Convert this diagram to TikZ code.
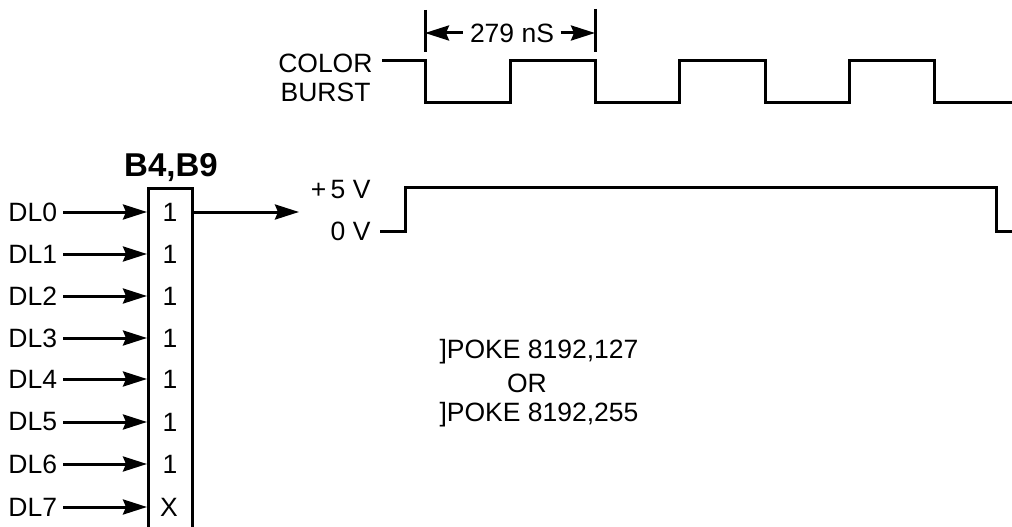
\documentclass[tikz,border=0pt]{standalone}
\usepackage{fontspec}
\setmainfont{Liberation Sans}
\usepackage{tikz}
\usetikzlibrary{positioning}
\usetikzlibrary{calc,arrows.meta}
\tikzset{
	x=1pt,y=-1pt,
	wire/.style = {-{Stealth[length=24pt,width=15pt,inset=3pt]}},
	wave/.style = {line width=3pt, line join=miter},
	txt/.style = {inner sep=0pt, font=\fontsize{26.5}{26.5}\selectfont},
	lineLabel/.style = {txt, anchor=west},
	sideLabel/.style = {txt, anchor=east},
	bit/.style = {txt},
	title/.style = {inner sep=0pt, font=\fontsize{33}{33}\selectfont\bfseries},
	latch/.style = {rectangle, draw, inner sep=0pt, minimum width=44pt, minimum height=352pt},
}
\begin{document}
\begin{tikzpicture}[line width=3pt]
	\clip (0,0) rectangle (1012,527);
	\fill[white] (0,0) rectangle (1012,527);
	% latch
	\node (box) [latch] at (170.5,364) {};
	\node (name) [title] at (171,168) {B4,B9};
	\node (b0) [bit] at (170,212) {1};
	\node (b1) [bit] at (170,254) {1};
	\node (b2) [bit] at (170,296) {1};
	\node (b3) [bit] at (170,338) {1};
	\node (b4) [bit] at (170,379) {1};
	\node (b5) [bit] at (170,422) {1};
	\node (b6) [bit] at (170,464) {1};
	\node (b7) [bit] at (169,507) {X};
	\node (dl0) [lineLabel] at (7,212) {DL0};
	\node (dl1) [lineLabel] at (7,254) {DL1};
	\node (dl2) [lineLabel] at (7,296) {DL2};
	\node (dl3) [lineLabel] at (7,338) {DL3};
	\node (dl4) [lineLabel] at (7,379) {DL4};
	\node (dl5) [lineLabel] at (7,422) {DL5};
	\node (dl6) [lineLabel] at (7,464) {DL6};
	\node (dl7) [lineLabel] at (7,507) {DL7};
	\path (63,212) edge[wire] (dl0 -| box.west);
	\path (63,254) edge[wire] (dl1 -| box.west);
	\path (63,296) edge[wire] (dl2 -| box.west);
	\path (63,338) edge[wire] (dl3 -| box.west);
	\path (63,379) edge[wire] (dl4 -| box.west);
	\path (63,422) edge[wire] (dl5 -| box.west);
	\path (63,464) edge[wire] (dl6 -| box.west);
	\path (63,507) edge[wire] (dl7 -| box.west);
	\coordinate (out) at (299,212);
	\path (dl0 -| box.east) edge[wire] (out);
	% color burst
	\node (color) [sideLabel] at (374,63) {COLOR};
	\node (burst) [sideLabel] at (372,92) {BURST};
	\draw[wave] (382,61) -- (425,61) -- (425,102) -- (510,102) -- (510,61) -- (595,61) -- (595,102)
		-- (679,102) -- (679,61) -- (765,61) -- (765,102) -- (849,102) -- (849,61) -- (934,61)
		-- (934,102) -- (1012,102);
	\coordinate (t1) at (425,10);
	\coordinate (t2) at (425,52);
	\coordinate (t3) at (595,9);
	\coordinate (t4) at (595,52);
	\draw (t1) -- (t2);
	\draw (t3) -- (t4);
	\node (period) [txt] at (512,33) {279 nS};
	\path ($(period.west)+(-6,0)$) edge[wire] (t1 |- period);
	\path ($(period.east)+(5,0)$) edge[wire] (t3 |- period);
	% output level
	\node (high) [sideLabel] at (372,190) {+\,5 V};
	\node (low) [sideLabel] at (372,231) {0 V};
	\draw[wave] (380,231) -- (405,231) -- (405,187) -- (996,187) -- (996,231) -- (1012,231);
	% commands
	\node (poke1) [txt, anchor=west] at (438,352) {]POKE 8192,127};
	\node (or) [txt] at (527,383) {OR};
	\node (poke2) [txt, anchor=west] at (438,415) {]POKE 8192,255};
\end{tikzpicture}
\end{document}
